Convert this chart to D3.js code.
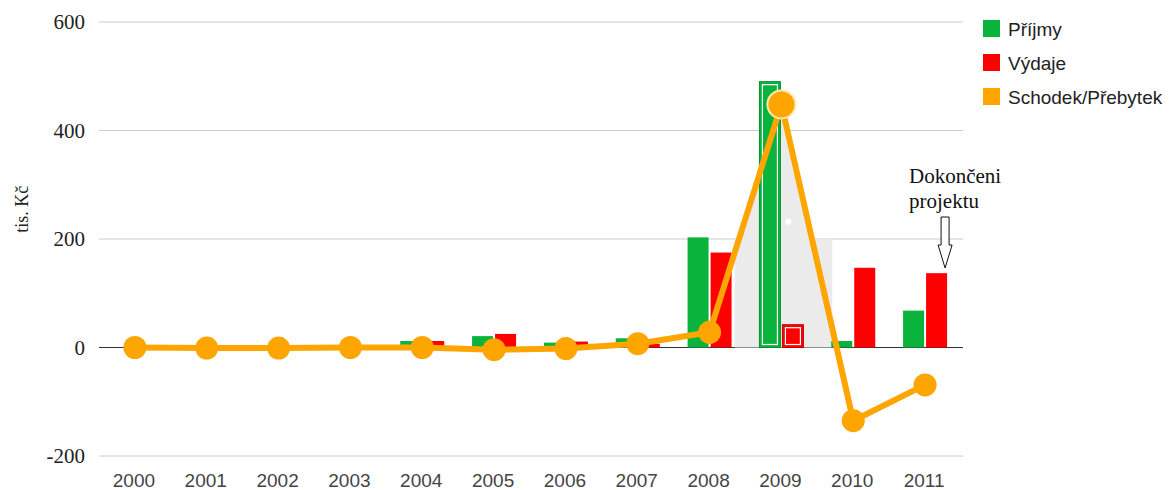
<!DOCTYPE html>
<html><head><meta charset="utf-8">
<script src="https://cdn.jsdelivr.net/npm/d3@7/dist/d3.min.js"></script>
<style>body{margin:0;background:#fff}</style>
</head><body>
<svg id="c" width="1173" height="490"></svg>
<script>
const years = ["2000","2001","2002","2003","2004","2005","2006","2007","2008","2009","2010","2011"];
const prijmy = [0,0,0,0,12,21,9,17,203,490,12,68];
const vydaje = [0,0,0,0,12,25,11,7,175,42,147,137];
const saldo  = [0,-1,-1,0,0,-4,-2,7,28,448,-135,-69];
const yTicks = [-200,0,200,400,600];
const seriesNames = ["Příjmy","Výdaje","Schodek/Přebytek"];
const colors = ["#0ab43c","#ff0000","#ffa500"];
const highlight = "2009";

const svg = d3.select("#c");
const x = d3.scaleBand().domain(years).range([99,961]);
const y = d3.scaleLinear().domain([-200,600]).range([456,22]);
const cx = d => x(d)+x.bandwidth()/2;

// gridlines
svg.append("g").selectAll("line").data(yTicks).join("line")
  .attr("x1",99).attr("x2",963).attr("y1",d=>y(d)).attr("y2",d=>y(d))
  .attr("stroke",d=>d===0?"#333":"#ccc").attr("stroke-width",1);

// y tick labels
svg.append("g").selectAll("text").data(yTicks).join("text")
  .attr("x",85).attr("y",d=>y(d)+7).attr("text-anchor","end")
  .attr("font-family","Liberation Serif").attr("font-size",21).attr("fill","#222")
  .text(d=>d);

// y title
svg.append("text").attr("transform",`translate(28,${y(255)}) rotate(-90)`)
  .attr("text-anchor","middle").attr("font-family","Liberation Serif").attr("font-size",18).attr("fill","#222")
  .text("tis. Kč");

// hover highlight area (gray) around 2009
(function(){
  const i = years.indexOf(highlight);
  const xl = cx(years[i-1])+25, xr = cx(years[i+1])-21;
  const top = y(200), base = y(0);
  const p0=[cx(years[i-1]),y(saldo[i-1])], p1=[cx(years[i]),y(saldo[i])], p2=[cx(years[i+1]),y(saldo[i+1])];
  const xAt=(a,b,yy)=>a[0]+(b[0]-a[0])*(yy-a[1])/(b[1]-a[1]);
  const pts=[[xl,base],[xl,top],[xAt(p0,p1,top),top],p1,[xAt(p1,p2,top),top],[xr,top],[xr,base]];
  svg.append("path").attr("d","M"+pts.map(p=>p.join(",")).join("L")+"Z").attr("fill","#ebebeb");
  svg.append("circle").attr("cx",cx(highlight)+7).attr("cy",y(232)).attr("r",3).attr("fill","#fff");
})();

// bars
const bw = 21;
const bars = svg.append("g");
[prijmy, vydaje].forEach((vals,s)=>{
  bars.selectAll(null).data(years).join("rect")
    .attr("x",d=>s===0?cx(d)-bw-1:cx(d)+1)
    .attr("width",bw)
    .attr("y",(d,i)=>y(Math.max(0,vals[i])))
    .attr("height",(d,i)=>Math.abs(y(vals[i])-y(0)))
    .attr("fill",colors[s])
    .attr("stroke",d=>d===highlight?(s===0?"#0a8a30":"#c00000"):"none");
  const i = years.indexOf(highlight);
  const bx = s===0?cx(highlight)-bw-1:cx(highlight)+1;
  const h = Math.abs(y(vals[i])-y(0));
  bars.append("rect").attr("x",bx+3).attr("y",y(vals[i])+3).attr("width",bw-6).attr("height",Math.max(0,h-6))
    .attr("fill","none").attr("stroke","#fff").attr("stroke-width",1.2);
});

// line
svg.append("path").datum(years)
  .attr("d",d3.line().x(d=>cx(d)).y((d,i)=>y(saldo[i])))
  .attr("fill","none").attr("stroke",colors[2]).attr("stroke-width",6).attr("stroke-linejoin","round");
svg.append("g").selectAll("circle").data(years).join("circle")
  .attr("cx",d=>cx(d)).attr("cy",(d,i)=>y(saldo[i]))
  .attr("r",d=>d===highlight?14:11.5)
  .attr("fill",colors[2])
  .attr("stroke",d=>d===highlight?"#ffe9b0":"none").attr("stroke-width",2);

// x labels
svg.append("g").selectAll("text").data(years).join("text")
  .attr("x",d=>cx(d)-1).attr("y",487).attr("text-anchor","middle")
  .attr("font-family","Liberation Sans, Arial").attr("font-size",19).attr("fill","#444")
  .text(d=>d);

// legend
const lg = svg.append("g");
seriesNames.forEach((n,i)=>{
  lg.append("rect").attr("x",983).attr("y",20+i*34).attr("width",17).attr("height",17).attr("fill",colors[i]);
  lg.append("text").attr("x",1008).attr("y",36+i*34).attr("font-family","Liberation Sans, Arial")
    .attr("font-size",19).attr("fill","#222").text(n);
});

// annotation
const ann = svg.append("g").attr("font-family","Liberation Serif").attr("font-size",21).attr("fill","#111");
ann.append("text").attr("x",909).attr("y",183).text("Dokončeni");
ann.append("text").attr("x",909).attr("y",208).text("projektu");
const ax = cx("2011")+20;
ann.append("path")
  .attr("d",`M${ax-4},217 L${ax+4},217 L${ax+4},245 L${ax+7},245 L${ax},268 L${ax-7},245 L${ax-4},245 Z`)
  .attr("fill","#fff").attr("stroke","#111").attr("stroke-width",1);
</script>
</body></html>
